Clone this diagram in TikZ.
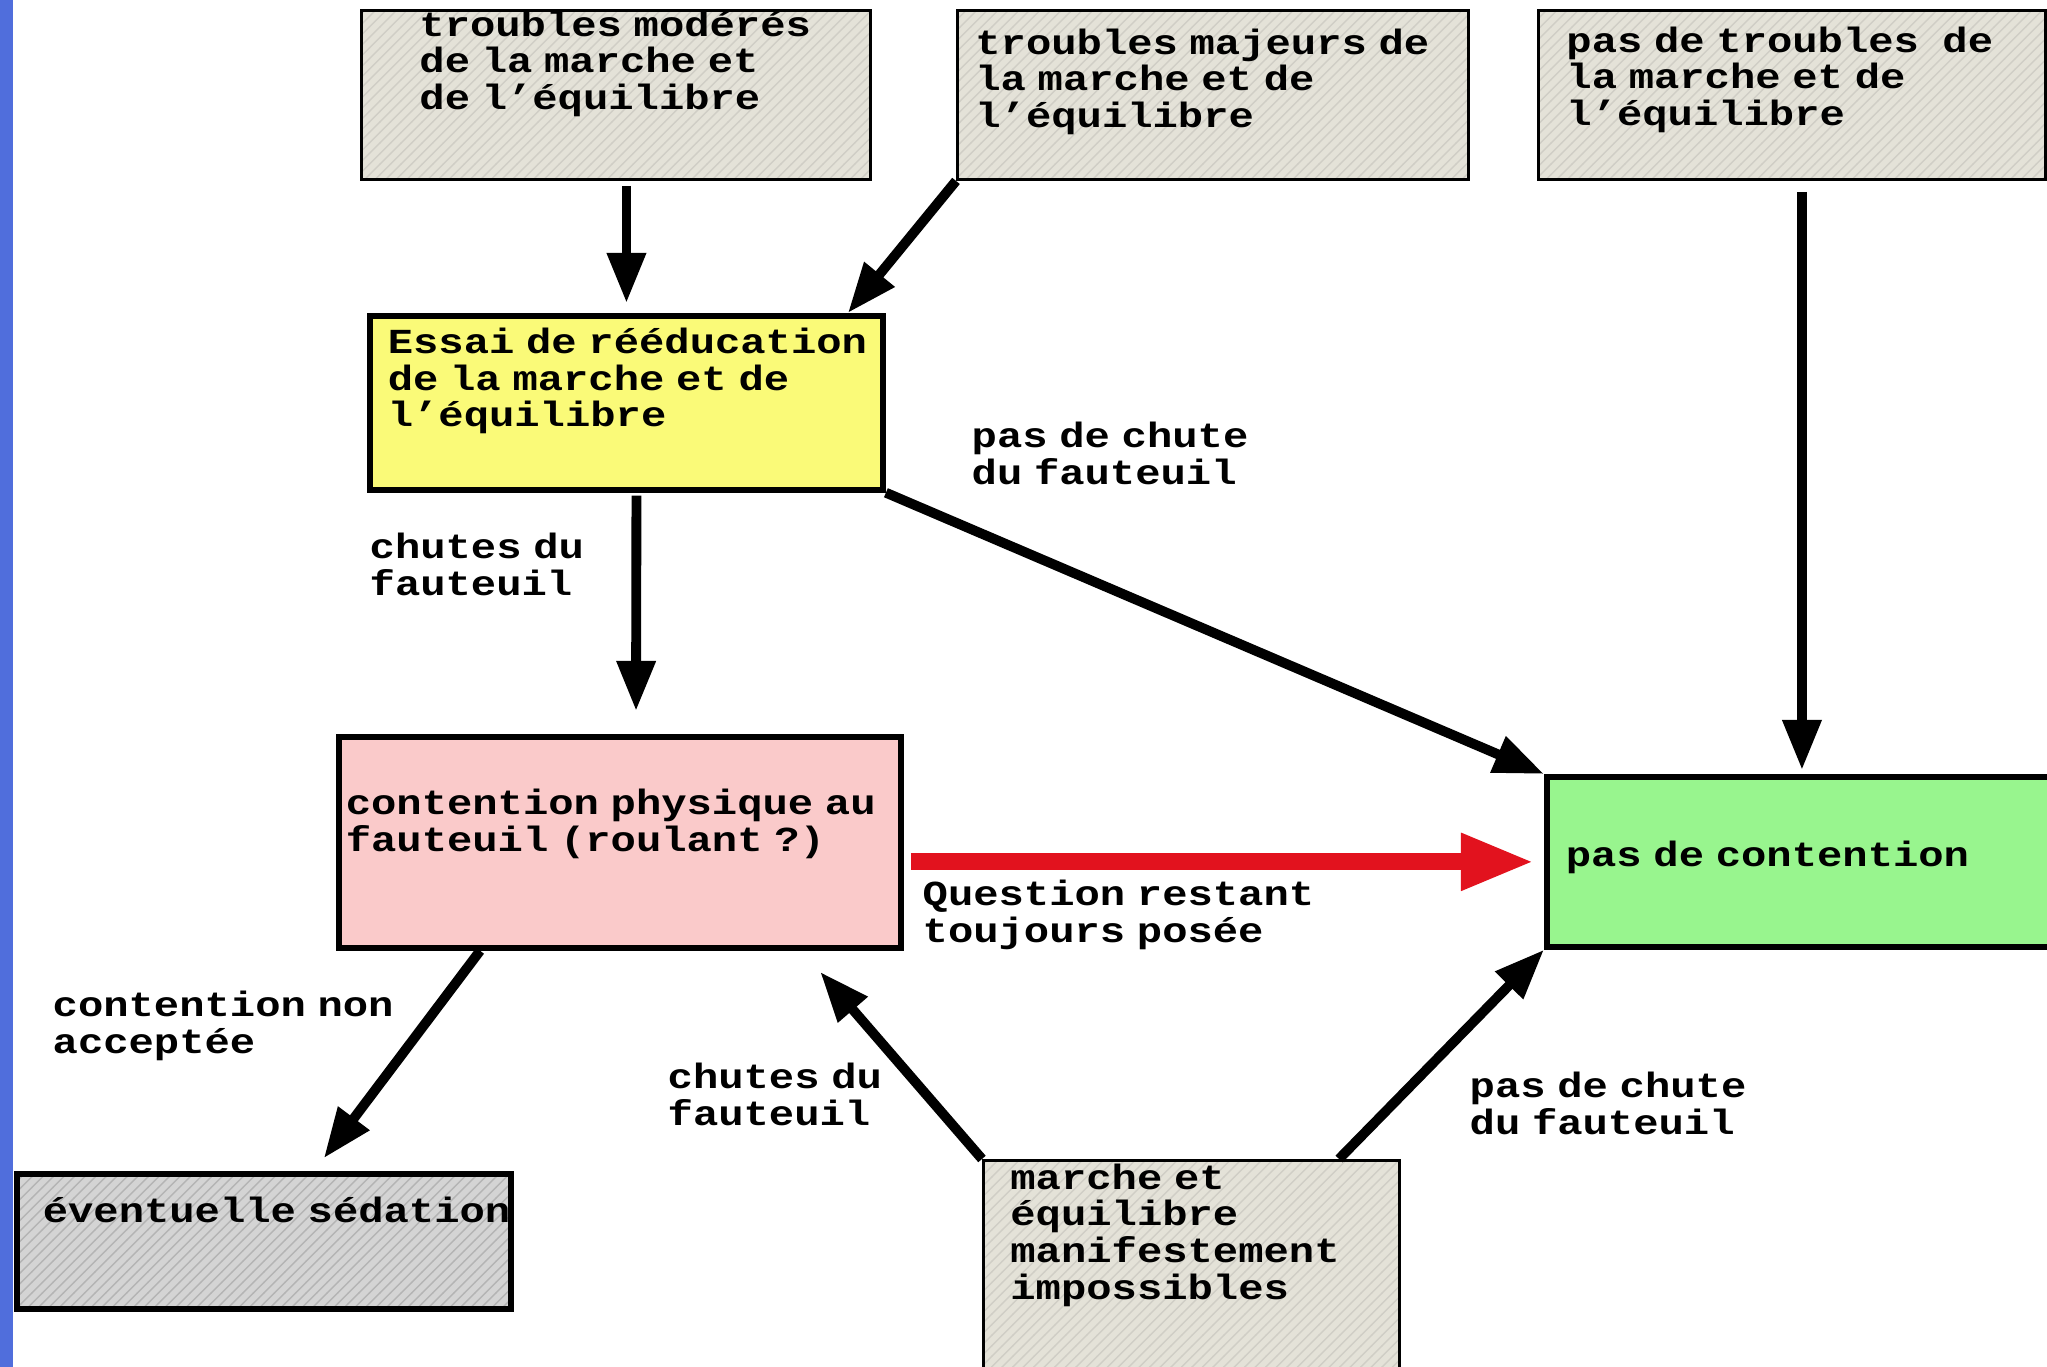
\documentclass[tikz,border=0pt]{standalone}
\usepackage{fontspec}
\setmonofont{Liberation Mono}[FakeStretch=1.2]
\usepackage{xcolor}
\usetikzlibrary{arrows.meta}
\usetikzlibrary{patterns}

\definecolor{bleu}{RGB}{80,110,220}
\definecolor{grege}{RGB}{228,226,216}
\definecolor{trame}{RGB}{208,206,198}
\definecolor{jaune}{RGB}{250,250,120}
\definecolor{rose}{RGB}{250,202,202}
\definecolor{vert}{RGB}{152,245,142}
\definecolor{gris}{RGB}{212,212,212}
\definecolor{rouge}{RGB}{226,18,30}

\begin{document}
\begin{tikzpicture}[x=0.01cm, y=-0.01cm,
        font=\ttfamily\bfseries\fontsize{10}{10.4}\selectfont,
        execute at begin node={\setlength{\lineskiplimit}{-20pt}},
        boite/.style={draw, anchor=north west, align=left, inner ysep=0pt},
        mince/.style={boite, line width=0.8pt, preaction={fill=grege},
            pattern=north east lines, pattern color=trame},
        epais/.style={boite, line width=1.6pt},
        legende/.style={anchor=base west, align=left, inner sep=0pt, text width=5cm},
        fleche/.style={line width=2.8pt, -{Triangle[length=0.5cm, width=0.37cm]}}]
    \useasboundingbox (0,0) rectangle (2047,1367);
    \clip (0,0) rectangle (2047,1367);

    \fill[bleu] (0,0) rectangle (13,1367);

    % boites du haut
    \node[mince, text width=3.93cm, inner xsep=0.58cm, text height=0.26cm, text depth=1.43cm]
        (moderes) at (360,9) {troubles~modérés\\de la marche et\\de l’équilibre};
    \node[mince, text width=4.75cm, inner xsep=0.18cm, text height=0.44cm, text depth=1.25cm]
        (majeurs) at (956,9) {troubles~majeurs~de\\la marche et de\\l’équilibre};
    \node[mince, text width=4.51cm, inner xsep=0.28cm, text height=0.42cm, text depth=1.27cm]
        (aucuns) at (1537,9) {pas~de~troubles~~de\\la marche et de\\l’équilibre};

    \node[epais, fill=jaune, text width=4.77cm, inner xsep=0.18cm, text height=0.38cm, text depth=1.36cm]
        (essai) at (367,313) {Essai~de~rééducation\\de la marche et de\\l’équilibre};
    \node[epais, fill=rose, text width=5.48cm, inner xsep=0.07cm, text height=0.78cm, text depth=1.33cm]
        (contention) at (336,734) {contention~physique~au\\fauteuil (roulant ?)};
    \node[epais, fill=vert, text width=4.72cm, inner xsep=0.19cm, text height=0.90cm, text depth=0.80cm]
        (aucune) at (1544,774) {pas de contention};
    \node[epais, preaction={fill=gris}, pattern=north east lines, pattern color=gris!85!black,
            text width=4.42cm, inner xsep=0.26cm, text height=0.49cm, text depth=0.86cm]
        (sedation) at (14,1171) {éventuelle~sédation};
    \node[mince, text width=3.62cm, inner xsep=0.27cm, text height=0.29cm, text depth=2.20cm]
        (marche) at (982,1159) {marche et\\équilibre\\manifestement\\impossibles};

    % textes des fleches
    \node[legende] (chuteH) at (971,448) {pas de chute\\du fauteuil};
    \node[legende] (chutesE) at (369,559) {chutes du\\fauteuil};
    \node[legende] (question) at (922,906) {Question restant\\toujours posée};
    \node[legende] (refus) at (52,1017) {contention non\\acceptée};
    \node[legende] (chutesB) at (667,1089) {chutes du\\fauteuil};
    \node[legende] (chuteB) at (1469,1098) {pas de chute\\du fauteuil};

    \draw[fleche, shorten <=0.05cm, shorten >=0.1cm] (essai.north |- moderes.south) -- (essai.north);
    \draw[fleche] (majeurs.south west) -- ([xshift=-0.38cm]essai.north east);
    \draw[fleche, shorten <=0.11cm, shorten >=0.04cm] (aucune.north |- aucuns.south) -- (aucune.north);
    \draw[fleche, shorten <=0.03cm, shorten >=0.23cm] ([xshift=0.1cm]essai.south) -- ([xshift=0.16cm]contention.north);
    \draw[fleche] (essai.south east) -- (aucune.north west);
    \draw[rouge, line width=4.8pt, -{Triangle[length=0.73cm, width=0.53cm]}, shorten <=0.07cm, shorten >=0.1cm]
        (contention.east |- aucune.west) -- (aucune.west);
    \draw[fleche, shorten >=0.16cm] ([xshift=1.44cm]contention.south west) -- ([xshift=3.0cm]sedation.north west);
    \draw[fleche, shorten >=0.28cm] (marche.north west) -- ([xshift=-1.02cm]contention.south east);
    \draw[fleche] ([xshift=-0.62cm]marche.north east) -- (aucune.south west);
\end{tikzpicture}
\end{document}
